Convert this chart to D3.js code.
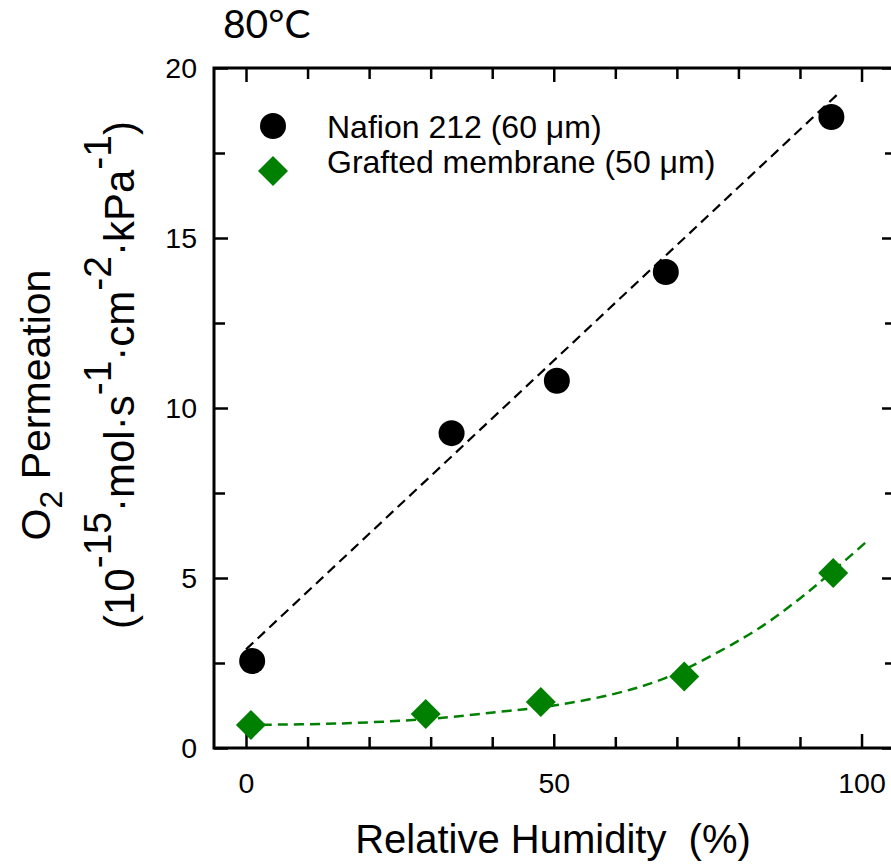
<!DOCTYPE html>
<html>
<head>
<meta charset="utf-8">
<script src="https://cdn.jsdelivr.net/npm/d3@7"></script>
<style>
  html, body { margin: 0; padding: 0; background: #fff; }
  svg { display: block; font-family: "Liberation Sans", Arial, sans-serif; }
</style>
</head>
<body>
<svg id="chart" width="891" height="866"></svg>
<script>
// measured points
const nafionRH = [1.0, 33.4, 50.5, 68.2, 95.1];
const nafionO2 = [2.56, 9.26, 10.8, 14.0, 18.56];
const graftRH  = [0.8, 29.2, 47.9, 71.2, 95.4];
const graftO2  = [0.68, 1.0, 1.35, 2.1, 5.15];

// fitted lines
const nafionFitRH = [0, 96.3];
const nafionFitO2 = [2.9, 19.26];
const graftFitRH  = [0, 15, 30, 41, 50, 60, 68, 77, 84, 90, 95, 101];
const graftFitO2  = [0.68, 0.72, 0.86, 1.06, 1.25, 1.6, 2.05, 2.85, 3.6, 4.4, 5.15, 6.1];

const xMajor = [0, 50, 100];
const xMinor = [10, 20, 30, 40, 60, 70, 80, 90];
const yMajor = [0, 5, 10, 15, 20];
const yMinor = [2.5, 7.5, 12.5, 17.5];

const legendLabels = ['Nafion 212 (60 \u03bcm)', 'Grafted membrane (50 \u03bcm)'];
const GREEN = '#008000';

const L = 214, R = 896, T = 68, B = 748;
const svg = d3.select('#chart');

const x = d3.scaleLinear().domain([-5.2, 105.6]).range([L, R]);
const y = d3.scaleLinear().domain([0, 20]).range([B, T]);

const zip = (a, b) => a.map((v, i) => [v, b[i]]);

// axes: ticks point inward on all four sides
function styleAxis(g) {
  g.select('.domain').remove();
  g.selectAll('.tick line').attr('stroke', '#000').attr('stroke-width', 2.5);
  g.selectAll('.tick text').attr('font-size', 28.5).attr('fill', '#000')
    .attr('font-family', '"Liberation Sans", Arial, sans-serif');
}

svg.append('g').attr('transform', `translate(0,${B})`)
  .call(d3.axisBottom(x).tickValues(xMajor).tickSize(-14).tickPadding(25).tickFormat(d3.format('d')))
  .call(styleAxis);
svg.append('g').attr('transform', `translate(0,${B})`)
  .call(d3.axisBottom(x).tickValues(xMinor).tickSize(-11).tickFormat(''))
  .call(styleAxis);
svg.append('g').attr('transform', `translate(0,${T})`)
  .call(d3.axisTop(x).tickValues(xMajor).tickSize(-14).tickFormat(''))
  .call(styleAxis);
svg.append('g').attr('transform', `translate(0,${T})`)
  .call(d3.axisTop(x).tickValues(xMinor).tickSize(-11).tickFormat(''))
  .call(styleAxis);

svg.append('g').attr('transform', `translate(${L},0)`)
  .call(d3.axisLeft(y).tickValues(yMajor).tickSize(-14).tickPadding(17))
  .call(styleAxis);
svg.append('g').attr('transform', `translate(${L},0)`)
  .call(d3.axisLeft(y).tickValues(yMinor).tickSize(-11).tickFormat(''))
  .call(styleAxis);
svg.append('g').attr('transform', `translate(${R},0)`)
  .call(d3.axisRight(y).tickValues(yMajor).tickSize(-14).tickFormat(''))
  .call(styleAxis);
svg.append('g').attr('transform', `translate(${R},0)`)
  .call(d3.axisRight(y).tickValues(yMinor).tickSize(-11).tickFormat(''))
  .call(styleAxis);

svg.append('rect')
  .attr('x', L).attr('y', T).attr('width', R - L).attr('height', B - T)
  .attr('fill', 'none').attr('stroke', '#000').attr('stroke-width', 3);

// fit lines
const line = d3.line().x(d => x(d[0])).y(d => y(d[1]));
svg.append('path').datum(zip(nafionFitRH, nafionFitO2))
  .attr('d', line).attr('fill', 'none')
  .attr('stroke', '#000').attr('stroke-width', 2.2).attr('stroke-dasharray', '10,6');
svg.append('path').datum(zip(graftFitRH, graftFitO2))
  .attr('d', line.curve(d3.curveCatmullRom)).attr('fill', 'none')
  .attr('stroke', GREEN).attr('stroke-width', 2.5).attr('stroke-dasharray', '10,6');

// markers
const diamond = d3.symbol().type(d3.symbolSquare).size(450);

svg.append('g').selectAll('circle').data(zip(nafionRH, nafionO2)).join('circle')
  .attr('cx', d => x(d[0])).attr('cy', d => y(d[1])).attr('r', 13).attr('fill', '#000');

svg.append('g').selectAll('path').data(zip(graftRH, graftO2)).join('path')
  .attr('d', diamond)
  .attr('transform', d => `translate(${x(d[0])},${y(d[1])}) rotate(45)`)
  .attr('fill', GREEN);

// legend
const lg = svg.append('g');
lg.append('circle').attr('cx', 273).attr('cy', 126).attr('r', 13).attr('fill', '#000');
lg.append('path').attr('d', diamond).attr('transform', 'translate(273,171) rotate(45)').attr('fill', GREEN);
lg.selectAll('text').data(legendLabels).join('text')
  .attr('x', 327).attr('y', (d, i) => 138 + i * 35)
  .attr('font-size', 32).attr('fill', '#000')
  .text(d => d);

// title
svg.append('text').attr('x', 223).attr('y', 38)
  .attr('font-family', 'Lato, "Open Sans", sans-serif').attr('font-size', 39)
  .text('80\u00b0C');

// x title
svg.append('text').attr('x', 553).attr('y', 853).attr('text-anchor', 'middle')
  .attr('font-size', 40).attr('xml:space', 'preserve')
  .text('Relative Humidity  (%)');

// y title, two rotated lines
const t1 = svg.append('text').attr('transform', 'translate(50,405) rotate(-90)')
  .attr('text-anchor', 'middle').attr('font-size', 41);
t1.append('tspan').text('O');
t1.append('tspan').attr('font-size', 32).attr('dy', 12).text('2');
t1.append('tspan').attr('dy', -12).text(' Permeation');

const supParts = [
  ['(10', '-15'], ['\u00b7mol\u00b7s', '-1'], ['\u00b7cm', '-2'], ['\u00b7kPa', '-1'], [')', null]
];
const t2 = svg.append('text').attr('transform', 'translate(134,375) rotate(-90)')
  .attr('text-anchor', 'middle').attr('font-size', 42);
let raised = false;
supParts.forEach(([base, sup]) => {
  t2.append('tspan').attr('dy', raised ? 23 : 0).text(base);
  raised = false;
  if (sup) {
    t2.append('tspan').attr('font-size', 39).attr('dy', -23).text(sup);
    raised = true;
  }
});
</script>
</body>
</html>
